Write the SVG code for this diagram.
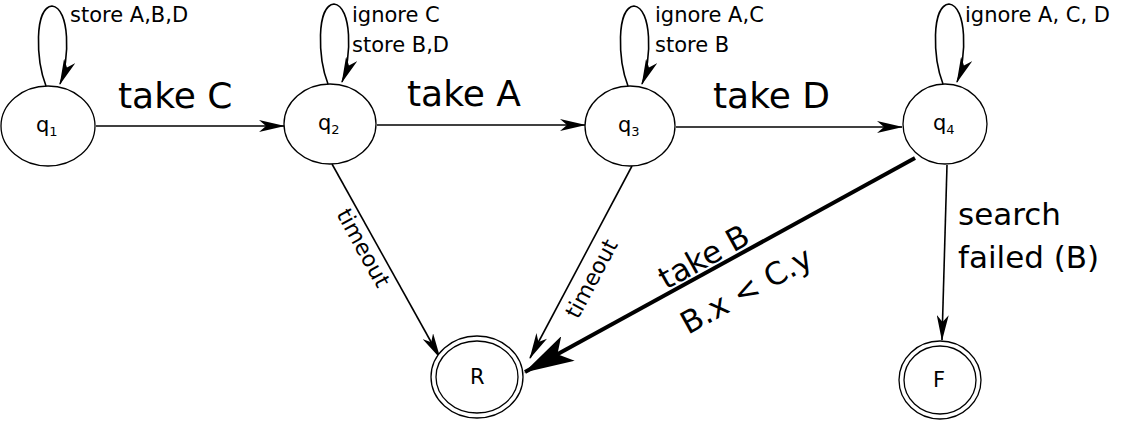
<svg xmlns="http://www.w3.org/2000/svg" width="1136" height="424" viewBox="0 0 1136 424">
<style>
.n{fill:#fff;stroke:#000;stroke-width:1.3}
.e{fill:none;stroke:#000;stroke-width:1.6}
.k{stroke-width:4}
text{font-family:"DejaVu Sans",sans-serif;fill:#000}
.s{font-size:21px}.b{font-size:36px}.m{font-size:31px}.t{font-size:22px}
</style>
<defs>
<marker id="a" viewBox="0 0 26 12" refX="25" refY="6" markerWidth="26" markerHeight="12" markerUnits="userSpaceOnUse" orient="auto"><path d="M0,0L26,6L0,12L7,6z"/></marker>
<marker id="A" viewBox="0 0 50 28" refX="49" refY="14" markerWidth="50" markerHeight="28" markerUnits="userSpaceOnUse" orient="auto"><path d="M0,0L50,14L0,28L12,14z"/></marker>
</defs>
<g id="edges">
<path class="e" marker-end="url(#a)" d="M46,86C36,60 34,8 52,6C70,8 70,60 60,84"/>
<path class="e" marker-end="url(#a)" d="M328,84C318,58 316,6 334,4C352,6 352,58 342,82"/>
<path class="e" marker-end="url(#a)" d="M628,86C618,60 616,8 634,6C652,8 652,60 642,84"/>
<path class="e" marker-end="url(#a)" d="M943,84C933,58 931,6 949,4C967,6 967,58 957,82"/>
<path class="e" marker-end="url(#a)" d="M96,126L284,126"/>
<path class="e" marker-end="url(#a)" d="M377,125L585,125"/>
<path class="e" marker-end="url(#a)" d="M676,127L902,127"/>
<path class="e" marker-end="url(#a)" d="M332,164L440,358"/>
<path class="e" marker-end="url(#a)" d="M632,166L530,358"/>
<path class="e k" marker-end="url(#A)" d="M915,158L525,372"/>
<path class="e" marker-end="url(#a)" d="M947,165L942,340"/>
<text class="s" x="70" y="22">store A,B,D</text>
<text class="s" x="352" y="22">ignore C</text>
<text class="s" x="352" y="52">store B,D</text>
<text class="s" x="655" y="22">ignore A,C</text>
<text class="s" x="655" y="52">store B</text>
<text class="s" x="965" y="22">ignore A, C, D</text>
<text class="b" x="118" y="108">take C</text>
<text class="b" x="407" y="106">take A</text>
<text class="b" x="713" y="108">take D</text>
<text class="t" transform="translate(336,214) rotate(61)">timeout</text>
<text class="t" transform="translate(578,320) rotate(-62)">timeout</text>
<text class="m" transform="translate(666,290) rotate(-29)">take B</text>
<text class="m" transform="translate(688,335) rotate(-29)">B.x &lt; C.y</text>
<text class="m" x="958" y="225">search</text>
<text class="m" x="958" y="268">failed (B)</text>
</g>
<g id="q1"><ellipse class="n" cx="48" cy="126" rx="47" ry="40"/><text class="s" x="36" y="132">q<tspan font-size="13" dy="4">1</tspan></text></g>
<g id="q2"><ellipse class="n" cx="330" cy="124" rx="46" ry="40"/><text class="s" x="318" y="130">q<tspan font-size="13" dy="4">2</tspan></text></g>
<g id="q3"><ellipse class="n" cx="630" cy="126" rx="45" ry="40"/><text class="s" x="618" y="132">q<tspan font-size="13" dy="4">3</tspan></text></g>
<g id="q4"><ellipse class="n" cx="945" cy="124" rx="42" ry="40"/><text class="s" x="933" y="130">q<tspan font-size="13" dy="4">4</tspan></text></g>
<g id="R"><ellipse class="n" cx="477" cy="377" rx="46" ry="41"/><ellipse class="n" cx="477" cy="377" rx="41" ry="36"/><text class="s" x="470" y="384">R</text></g>
<g id="F"><ellipse class="n" cx="940" cy="380" rx="41" ry="39"/><ellipse class="n" cx="940" cy="380" rx="36" ry="34"/><text class="s" x="933" y="387">F</text></g>
</svg>
